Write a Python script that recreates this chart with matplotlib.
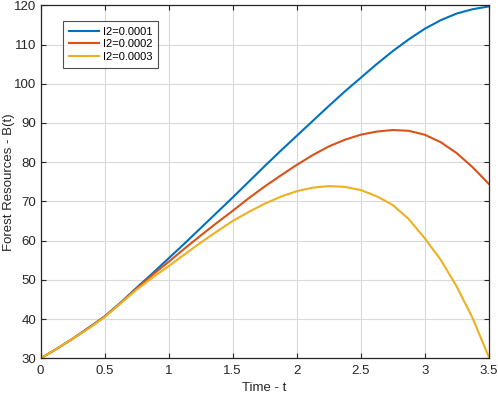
import numpy as np
import matplotlib
matplotlib.use("Agg")
import matplotlib.pyplot as plt

plt.rcParams['font.family'] = ['Liberation Sans', 'DejaVu Sans']

# time axis and curves
t = [0.0, 0.125, 0.25, 0.375, 0.5, 0.625, 0.75, 0.875, 1.0, 1.125, 1.25, 1.375,
     1.5, 1.625, 1.75, 1.875, 2.0, 2.125, 2.25, 2.375, 2.5, 2.625, 2.75, 2.875,
     3.0, 3.125, 3.25, 3.375, 3.5]

b_0001 = [30.0, 32.4, 35.0, 37.8, 40.7, 44.2, 48.0, 51.7, 55.5, 59.3, 63.2, 67.1,
          71.0, 75.0, 79.0, 82.9, 86.7, 90.5, 94.3, 98.0, 101.5, 105.0, 108.3, 111.3,
          114.0, 116.2, 117.9, 119.0, 119.7]

b_0002 = [30.0, 32.4, 35.0, 37.7, 40.6, 44.1, 47.8, 51.3, 54.6, 58.0, 61.3, 64.5,
          67.6, 70.8, 73.8, 76.6, 79.3, 81.8, 84.0, 85.7, 87.0, 87.8, 88.2, 88.0,
          87.0, 85.1, 82.3, 78.7, 74.5]

b_0003 = [30.0, 32.4, 35.0, 37.6, 40.5, 44.0, 47.5, 50.6, 53.5, 56.5, 59.5, 62.3,
          65.0, 67.3, 69.4, 71.2, 72.6, 73.5, 73.9, 73.7, 72.9, 71.3, 69.1, 65.5,
          60.6, 55.1, 48.3, 40.2, 30.4]

labels = ['I2=0.0001', 'I2=0.0002', 'I2=0.0003']
colors = ['#0072BD', '#D95319', '#EDB120']

xticks = [0, 0.5, 1, 1.5, 2, 2.5, 3, 3.5]
xticklabels = ['0', '0.5', '1', '1.5', '2', '2.5', '3', '3.5']
yticks = [30, 40, 50, 60, 70, 80, 90, 100, 110, 120]

fig = plt.figure(figsize=(4.98, 3.95), dpi=100)
ax = fig.add_axes([0.0817, 0.093, 0.8996, 0.8936])

for y, lab, c in zip([b_0001, b_0002, b_0003], labels, colors):
    ax.plot(t, y, color=c, linewidth=1.5, label=lab)

ax.set_xlim(0, 3.5)
ax.set_ylim(30, 120)
ax.set_xticks(xticks)
ax.set_xticklabels(xticklabels)
ax.set_yticks(yticks)

ax.grid(True, color='#D9D9D9', linewidth=0.8)
ax.set_axisbelow(True)
ax.tick_params(direction='in', length=3.5, width=0.8, top=True, right=True,
               labelsize=9.5, colors='#262626')
ax.tick_params(axis='x', pad=5)
ax.tick_params(axis='y', pad=3.3)
for s in ax.spines.values():
    s.set_color('#262626')
    s.set_linewidth(0.9)

ax.set_xlabel('Time - t', fontsize=9.5, color='#262626')
ax.set_ylabel('Forest Resources - B(t)', fontsize=9.5, color='#262626')
ax.xaxis.set_label_coords(0.5, -0.067)
ax.yaxis.set_label_coords(-0.058, 0.5)

leg = ax.legend(loc='upper left', bbox_to_anchor=(0.0498, 0.9555), fontsize=8,
                frameon=True, fancybox=False, edgecolor='#262626',
                handlelength=2.7, handletextpad=0.4, borderpad=0.5,
                labelspacing=0.25, borderaxespad=0)
leg.get_frame().set_linewidth(0.8)

fig.savefig('out.png', dpi=100)
